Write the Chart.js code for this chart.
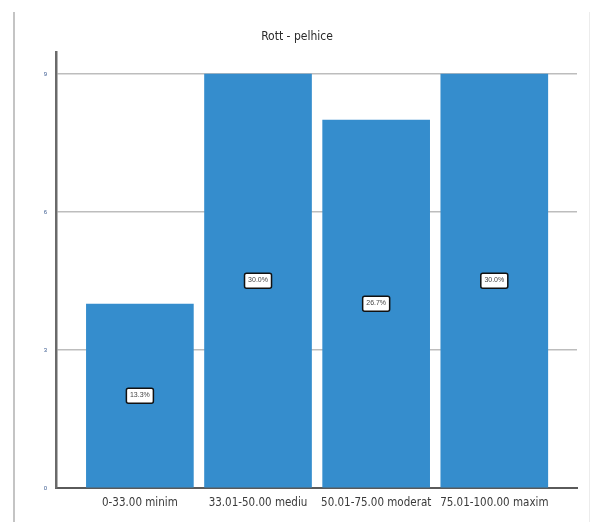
<!DOCTYPE html>
<html>
<head>
<meta charset="utf-8">
<script src="https://cdn.jsdelivr.net/npm/chart.js@4/dist/chart.umd.min.js"></script>
<style>
  html, body { margin: 0; padding: 0; background: #ffffff; }
  #wrap { width: 590px; height: 522px; position: relative; }
</style>
</head>
<body>
<div id="wrap"><canvas id="c" width="590" height="522"></canvas></div>
<script>
// Categories, counts and axis ticks
const categories = ['0-33.00 minim', '33.01-50.00 mediu', '50.01-75.00 moderat', '75.01-100.00 maxim'];
const counts = [4, 9, 8, 9];
const yTicks = [0, 3, 6, 9];
const chartTitle = 'Rott - pelhice';

const total = counts.reduce((a, b) => a + b, 0);
const percentLabels = counts.map(v => (v / total * 100).toFixed(1) + '%');

const narrow = '"DejaVu Sans Condensed", "Liberation Sans Narrow", "Liberation Sans", Arial, sans-serif';
const plain = '"Liberation Sans", Arial, sans-serif';

// Frame lines, title and the value boxes inside each bar
const decor = {
  id: 'decor',
  beforeDraw(chart) {
    const ctx = chart.ctx;
    ctx.save();
    ctx.fillStyle = '#ffffff';
    ctx.fillRect(0, 0, chart.width, chart.height);
    ctx.strokeStyle = '#c4c4c4';
    ctx.lineWidth = 2;
    ctx.beginPath();
    ctx.moveTo(14, 12); ctx.lineTo(14, chart.height);
    ctx.stroke();
    ctx.strokeStyle = '#ececec';
    ctx.lineWidth = 1;
    ctx.beginPath();
    ctx.moveTo(589.5, 12); ctx.lineTo(589.5, chart.height);
    ctx.stroke();
    ctx.restore();
  },
  afterDraw(chart) {
    const ctx = chart.ctx;
    ctx.save();
    ctx.fillStyle = '#2a2a2a';
    ctx.font = '12px ' + narrow;
    ctx.textAlign = 'center';
    ctx.textBaseline = 'middle';
    ctx.fillText(chartTitle, 297, 37);

    const meta = chart.getDatasetMeta(0);
    meta.data.forEach((bar, i) => {
      const cx = bar.x;
      const cy = (bar.y + bar.base) / 2;
      const w = 27, h = 15;
      ctx.fillStyle = '#ffffff';
      ctx.strokeStyle = '#111111';
      ctx.lineWidth = 1.5;
      ctx.beginPath();
      ctx.roundRect(cx - w / 2, cy - h / 2, w, h, 2);
      ctx.fill();
      ctx.stroke();
      ctx.fillStyle = '#444444';
      ctx.font = '7px ' + plain;
      ctx.fillText(percentLabels[i], cx, cy - 1);
    });
    ctx.restore();
  }
};

new Chart(document.getElementById('c'), {
  type: 'bar',
  data: {
    datasets: [{
      data: counts.map((v, i) => ({ x: i, y: v })),
      backgroundColor: '#358dcd',
      borderWidth: 0,
      barThickness: 107
    }]
  },
  options: {
    responsive: false,
    animation: false,
    events: [],
    layout: { padding: { left: 16, right: 13, top: 52, bottom: 0 } },
    plugins: {
      legend: { display: false },
      title: { display: false },
      tooltip: { enabled: false }
    },
    scales: {
      x: {
        type: 'linear',
        offset: false,
        min: -0.71,
        max: 3.70,
        afterBuildTicks(scale) { scale.ticks = categories.map((_, i) => ({ value: i })); },
        afterFit(scale) { scale.height = 34; },
        grid: { display: false, drawTicks: false },
        border: { display: true, color: '#5a5a5a', width: 2 },
        ticks: {
          autoSkip: false,
          maxRotation: 0,
          padding: 8,
          color: '#3a3a3a',
          font: { family: narrow, size: 11.5 },
          callback: (v) => categories[v] ?? ''
        }
      },
      y: {
        min: 0,
        max: 9.48,
        afterBuildTicks(scale) { scale.ticks = yTicks.map(v => ({ value: v })); },
        afterFit(scale) { scale.width = 40; },
        grid: { color: '#bdbdbd', lineWidth: 1.5, drawTicks: false },
        border: { display: true, color: '#6a6a6a', width: 2.5 },
        ticks: {
          padding: 9,
          color: '#3a5a90',
          font: { family: plain, size: 6 }
        }
      }
    }
  },
  plugins: [decor]
});
</script>
</body>
</html>
